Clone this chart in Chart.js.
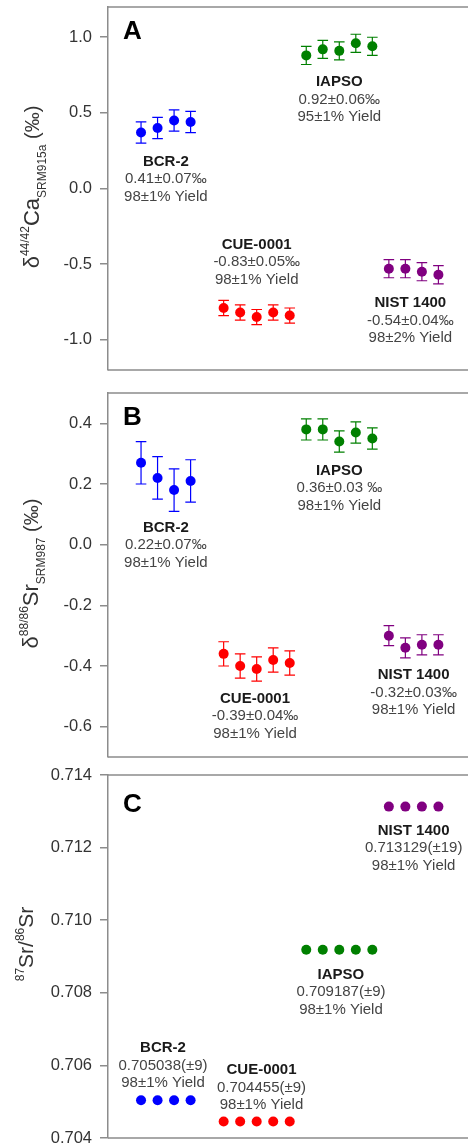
<!DOCTYPE html>
<html>
<head>
<meta charset="utf-8">
<script src="https://cdn.jsdelivr.net/npm/chart.js@4"></script>
<style>
  html, body { margin: 0; padding: 0; background: #fff; width: 468px; height: 1147px; overflow: hidden; position: relative; }
  canvas { position: absolute; left: 0; }
</style>
</head>
<body>
<canvas id="chartA" width="520" height="410" style="top:-20px"></canvas>
<canvas id="chartB" width="520" height="407" style="top:370px"></canvas>
<canvas id="chartC" width="520" height="408" style="top:750px"></canvas>
<script>
// replicate run number of each sample (x position)
const bcrRuns = [1, 2, 3, 4];
const cueRuns = [6, 7, 8, 9, 10];
const iapsoRuns = [11, 12, 13, 14, 15];
const nistRuns = [16, 17, 18, 19];

const sampleNames = ['BCR-2', 'CUE-0001', 'IAPSO', 'NIST 1400'];
const sampleColors = ['#0000ff', '#ff0000', '#008000', '#800080'];

// A: d44/42Ca (permil)
const caBCR = [0.37, 0.40, 0.45, 0.44];
const caBCRErr = [0.07, 0.07, 0.07, 0.07];
const caCUE = [-0.79, -0.82, -0.85, -0.82, -0.84];
const caCUEErr = [0.05, 0.05, 0.05, 0.05, 0.05];
const caIAPSO = [0.88, 0.92, 0.91, 0.96, 0.94];
const caIAPSOErr = [0.06, 0.06, 0.06, 0.06, 0.06];
const caNIST = [-0.53, -0.53, -0.55, -0.57];
const caNISTErr = [0.06, 0.06, 0.06, 0.06];
const caTicks = [-1.0, -0.5, 0.0, 0.5, 1.0];

// B: d88/86Sr (permil)
const srBCR = [0.27, 0.22, 0.18, 0.21];
const srBCRErr = [0.07, 0.07, 0.07, 0.07];
const srCUE = [-0.36, -0.40, -0.41, -0.38, -0.39];
const srCUEErr = [0.04, 0.04, 0.04, 0.04, 0.04];
const srIAPSO = [0.38, 0.38, 0.34, 0.37, 0.35];
const srIAPSOErr = [0.035, 0.035, 0.035, 0.035, 0.035];
const srNIST = [-0.30, -0.34, -0.33, -0.33];
const srNISTErr = [0.033, 0.033, 0.033, 0.033];
const srTicks = [-0.6, -0.4, -0.2, 0.0, 0.2, 0.4];

// C: 87Sr/86Sr
const ratioBCR = [0.705038, 0.705038, 0.705038, 0.705038];
const ratioCUE = [0.704455, 0.704455, 0.704455, 0.704455, 0.704455];
const ratioIAPSO = [0.709187, 0.709187, 0.709187, 0.709187, 0.709187];
const ratioNIST = [0.713129, 0.713129, 0.713129, 0.713129];
const ratioTicks = [0.704, 0.706, 0.708, 0.710, 0.712, 0.714];

// text under/over each group: [x, y, name, value, yield]
const caNotes = [
    [2.5, 0.178, 'BCR-2', '0.41±0.07‰', '98±1% Yield'],
    [8, -0.37, 'CUE-0001', '-0.83±0.05‰', '98±1% Yield'],
    [13, 0.704, 'IAPSO', '0.92±0.06‰', '95±1% Yield'],
    [17.3, -0.759, 'NIST 1400', '-0.54±0.04‰', '98±2% Yield']
];
const srNotes = [
    [2.5, 0.057, 'BCR-2', '0.22±0.07‰', '98±1% Yield'],
    [7.9, -0.507, 'CUE-0001', '-0.39±0.04‰', '98±1% Yield'],
    [13, 0.244, 'IAPSO', '0.36±0.03 ‰', '98±1% Yield'],
    [17.5, -0.43, 'NIST 1400', '-0.32±0.03‰', '98±1% Yield']
];
const ratioNotes = [
    [2.33, 0.706482, 'BCR-2', '0.705038(±9)', '98±1% Yield'],
    [8.29, 0.705865, 'CUE-0001', '0.704455(±9)', '98±1% Yield'],
    [13.1, 0.708498, 'IAPSO', '0.709187(±9)', '98±1% Yield'],
    [17.5, 0.71247, 'NIST 1400', '0.713129(±19)', '98±1% Yield']
];

const FONT = '"Liberation Sans", Arial, sans-serif';

function toPoints(runs, vals) {
    return runs.map((r, i) => ({ x: r, y: vals[i] }));
}

// error bars drawn under the points
const errorBars = {
    id: 'errorBars',
    beforeDatasetsDraw(chart) {
        const ctx = chart.ctx;
        const xs = chart.scales.x, ys = chart.scales.y;
        chart.data.datasets.forEach(ds => {
            if (!ds.errors) return;
            ctx.save();
            ctx.strokeStyle = ds.borderColor;
            ctx.lineWidth = 1.2;
            ds.data.forEach((p, i) => {
                const x = xs.getPixelForValue(p.x);
                const lo = ys.getPixelForValue(p.y - ds.errors[i]);
                const hi = ys.getPixelForValue(p.y + ds.errors[i]);
                ctx.beginPath();
                ctx.moveTo(x, lo); ctx.lineTo(x, hi);
                ctx.moveTo(x - 5.3, lo); ctx.lineTo(x + 5.3, lo);
                ctx.moveTo(x - 5.3, hi); ctx.lineTo(x + 5.3, hi);
                ctx.stroke();
            });
            ctx.restore();
        });
    }
};

// frame, panel letter, group notes, y title with sup/sub
const decorations = {
    id: 'decorations',
    afterDraw(chart, args, opts) {
        const ctx = chart.ctx;
        const a = chart.chartArea;
        const xs = chart.scales.x, ys = chart.scales.y;
        ctx.save();
        ctx.strokeStyle = '#8c8c8c';
        ctx.lineWidth = 1.5;
        ctx.beginPath();
        ctx.moveTo(a.left, a.top); ctx.lineTo(a.right, a.top);
        ctx.moveTo(a.left, a.bottom); ctx.lineTo(a.right, a.bottom);
        ctx.stroke();

        // panel letter
        ctx.fillStyle = '#000';
        ctx.font = 'bold 26px ' + FONT;
        ctx.textAlign = 'left';
        ctx.textBaseline = 'middle';
        ctx.fillText(opts.letter, a.left + 15, a.top + opts.letterDy);

        // group notes
        ctx.textAlign = 'center';
        opts.notes.forEach(n => {
            const x = xs.getPixelForValue(n[0]);
            const y = ys.getPixelForValue(n[1]);
            ctx.fillStyle = '#1a1a1a';
            ctx.font = 'bold 15px ' + FONT;
            ctx.fillText(n[2], x, y);
            ctx.fillStyle = '#444';
            ctx.font = '15px ' + FONT;
            ctx.fillText(n[3], x, y + 17.5);
            ctx.fillText(n[4], x, y + 35);
        });

        // rotated axis title
        const segs = opts.title;
        let total = 0;
        segs.forEach(s => {
            ctx.font = s.size + 'px ' + FONT;
            s.w = ctx.measureText(s.t).width;
            total += s.w;
        });
        const cy = (a.top + a.bottom) / 2 + opts.titleDy;
        ctx.translate(opts.titleX, cy);
        ctx.rotate(-Math.PI / 2);
        ctx.textAlign = 'left';
        ctx.textBaseline = 'alphabetic';
        ctx.fillStyle = '#333';
        let pos = -total / 2;
        segs.forEach(s => {
            ctx.font = s.size + 'px ' + FONT;
            ctx.fillText(s.t, pos, s.dy || 0);
            pos += s.w;
        });
        ctx.restore();
    }
};

function makePanel(id, sets, ticks, range, decimals, deco, padTop, padBottom) {
    const datasets = sets.map((s, i) => ({
        label: sampleNames[i],
        data: toPoints(s[0], s[1]),
        errors: s[2],
        backgroundColor: sampleColors[i],
        borderColor: sampleColors[i],
        pointRadius: 5,
        pointBorderWidth: 0,
        showLine: false
    }));
    return new Chart(document.getElementById(id), {
        type: 'scatter',
        data: { datasets: datasets },
        options: {
            responsive: false,
            animation: false,
            events: [],
            layout: { padding: { left: 0, right: 15.5, top: padTop, bottom: padBottom } },
            scales: {
                x: { type: 'linear', min: -1, max: 23, display: false },
                y: {
                    min: range[0],
                    max: range[1],
                    afterBuildTicks: scale => { scale.ticks = ticks.map(v => ({ value: v })); },
                    afterFit: scale => { scale.width = 108; },
                    grid: { drawOnChartArea: false, drawTicks: true, tickLength: 8, color: '#8c8c8c', lineWidth: 1.5 },
                    border: { display: true, color: '#8c8c8c', width: 1.5 },
                    ticks: {
                        padding: 8,
                        color: '#333',
                        font: { family: FONT, size: 16.5 },
                        callback: v => Number(v).toFixed(decimals)
                    }
                }
            },
            plugins: {
                legend: { display: false },
                tooltip: { enabled: false },
                decorations: deco
            }
        },
        plugins: [errorBars, decorations]
    });
}

makePanel('chartA', [
    [bcrRuns, caBCR, caBCRErr],
    [cueRuns, caCUE, caCUEErr],
    [iapsoRuns, caIAPSO, caIAPSOErr],
    [nistRuns, caNIST, caNISTErr]
], caTicks, [-1.2, 1.2], 1, {
    letter: 'A', letterDy: 25, notes: caNotes, titleX: 38.5, titleDy: -1.5,
    title: [
        { t: 'δ', size: 22 },
        { t: '44/42', size: 12, dy: -9.5 },
        { t: 'Ca', size: 22 },
        { t: 'SRM915a', size: 12, dy: 7 },
        { t: ' (‰)', size: 20 }
    ]
}, 27, 20);

makePanel('chartB', [
    [bcrRuns, srBCR, srBCRErr],
    [cueRuns, srCUE, srCUEErr],
    [iapsoRuns, srIAPSO, srIAPSOErr],
    [nistRuns, srNIST, srNISTErr]
], srTicks, [-0.7, 0.5], 1, {
    letter: 'B', letterDy: 25, notes: srNotes, titleX: 37.5, titleDy: -1.5,
    title: [
        { t: 'δ', size: 22 },
        { t: '88/86', size: 12, dy: -9.5 },
        { t: 'Sr', size: 22 },
        { t: 'SRM987', size: 12, dy: 7 },
        { t: ' (‰)', size: 20 }
    ]
}, 23, 20);

makePanel('chartC', [
    [bcrRuns, ratioBCR, null],
    [cueRuns, ratioCUE, null],
    [iapsoRuns, ratioIAPSO, null],
    [nistRuns, ratioNIST, null]
], ratioTicks, [0.704, 0.714], 3, {
    letter: 'C', letterDy: 30, notes: ratioNotes, titleX: 33, titleDy: -12.5,
    title: [
        { t: '87', size: 12, dy: -9.5 },
        { t: 'Sr/', size: 21 },
        { t: '86', size: 12, dy: -9.5 },
        { t: 'Sr', size: 21 }
    ]
}, 25, 20);
</script>
</body>
</html>
